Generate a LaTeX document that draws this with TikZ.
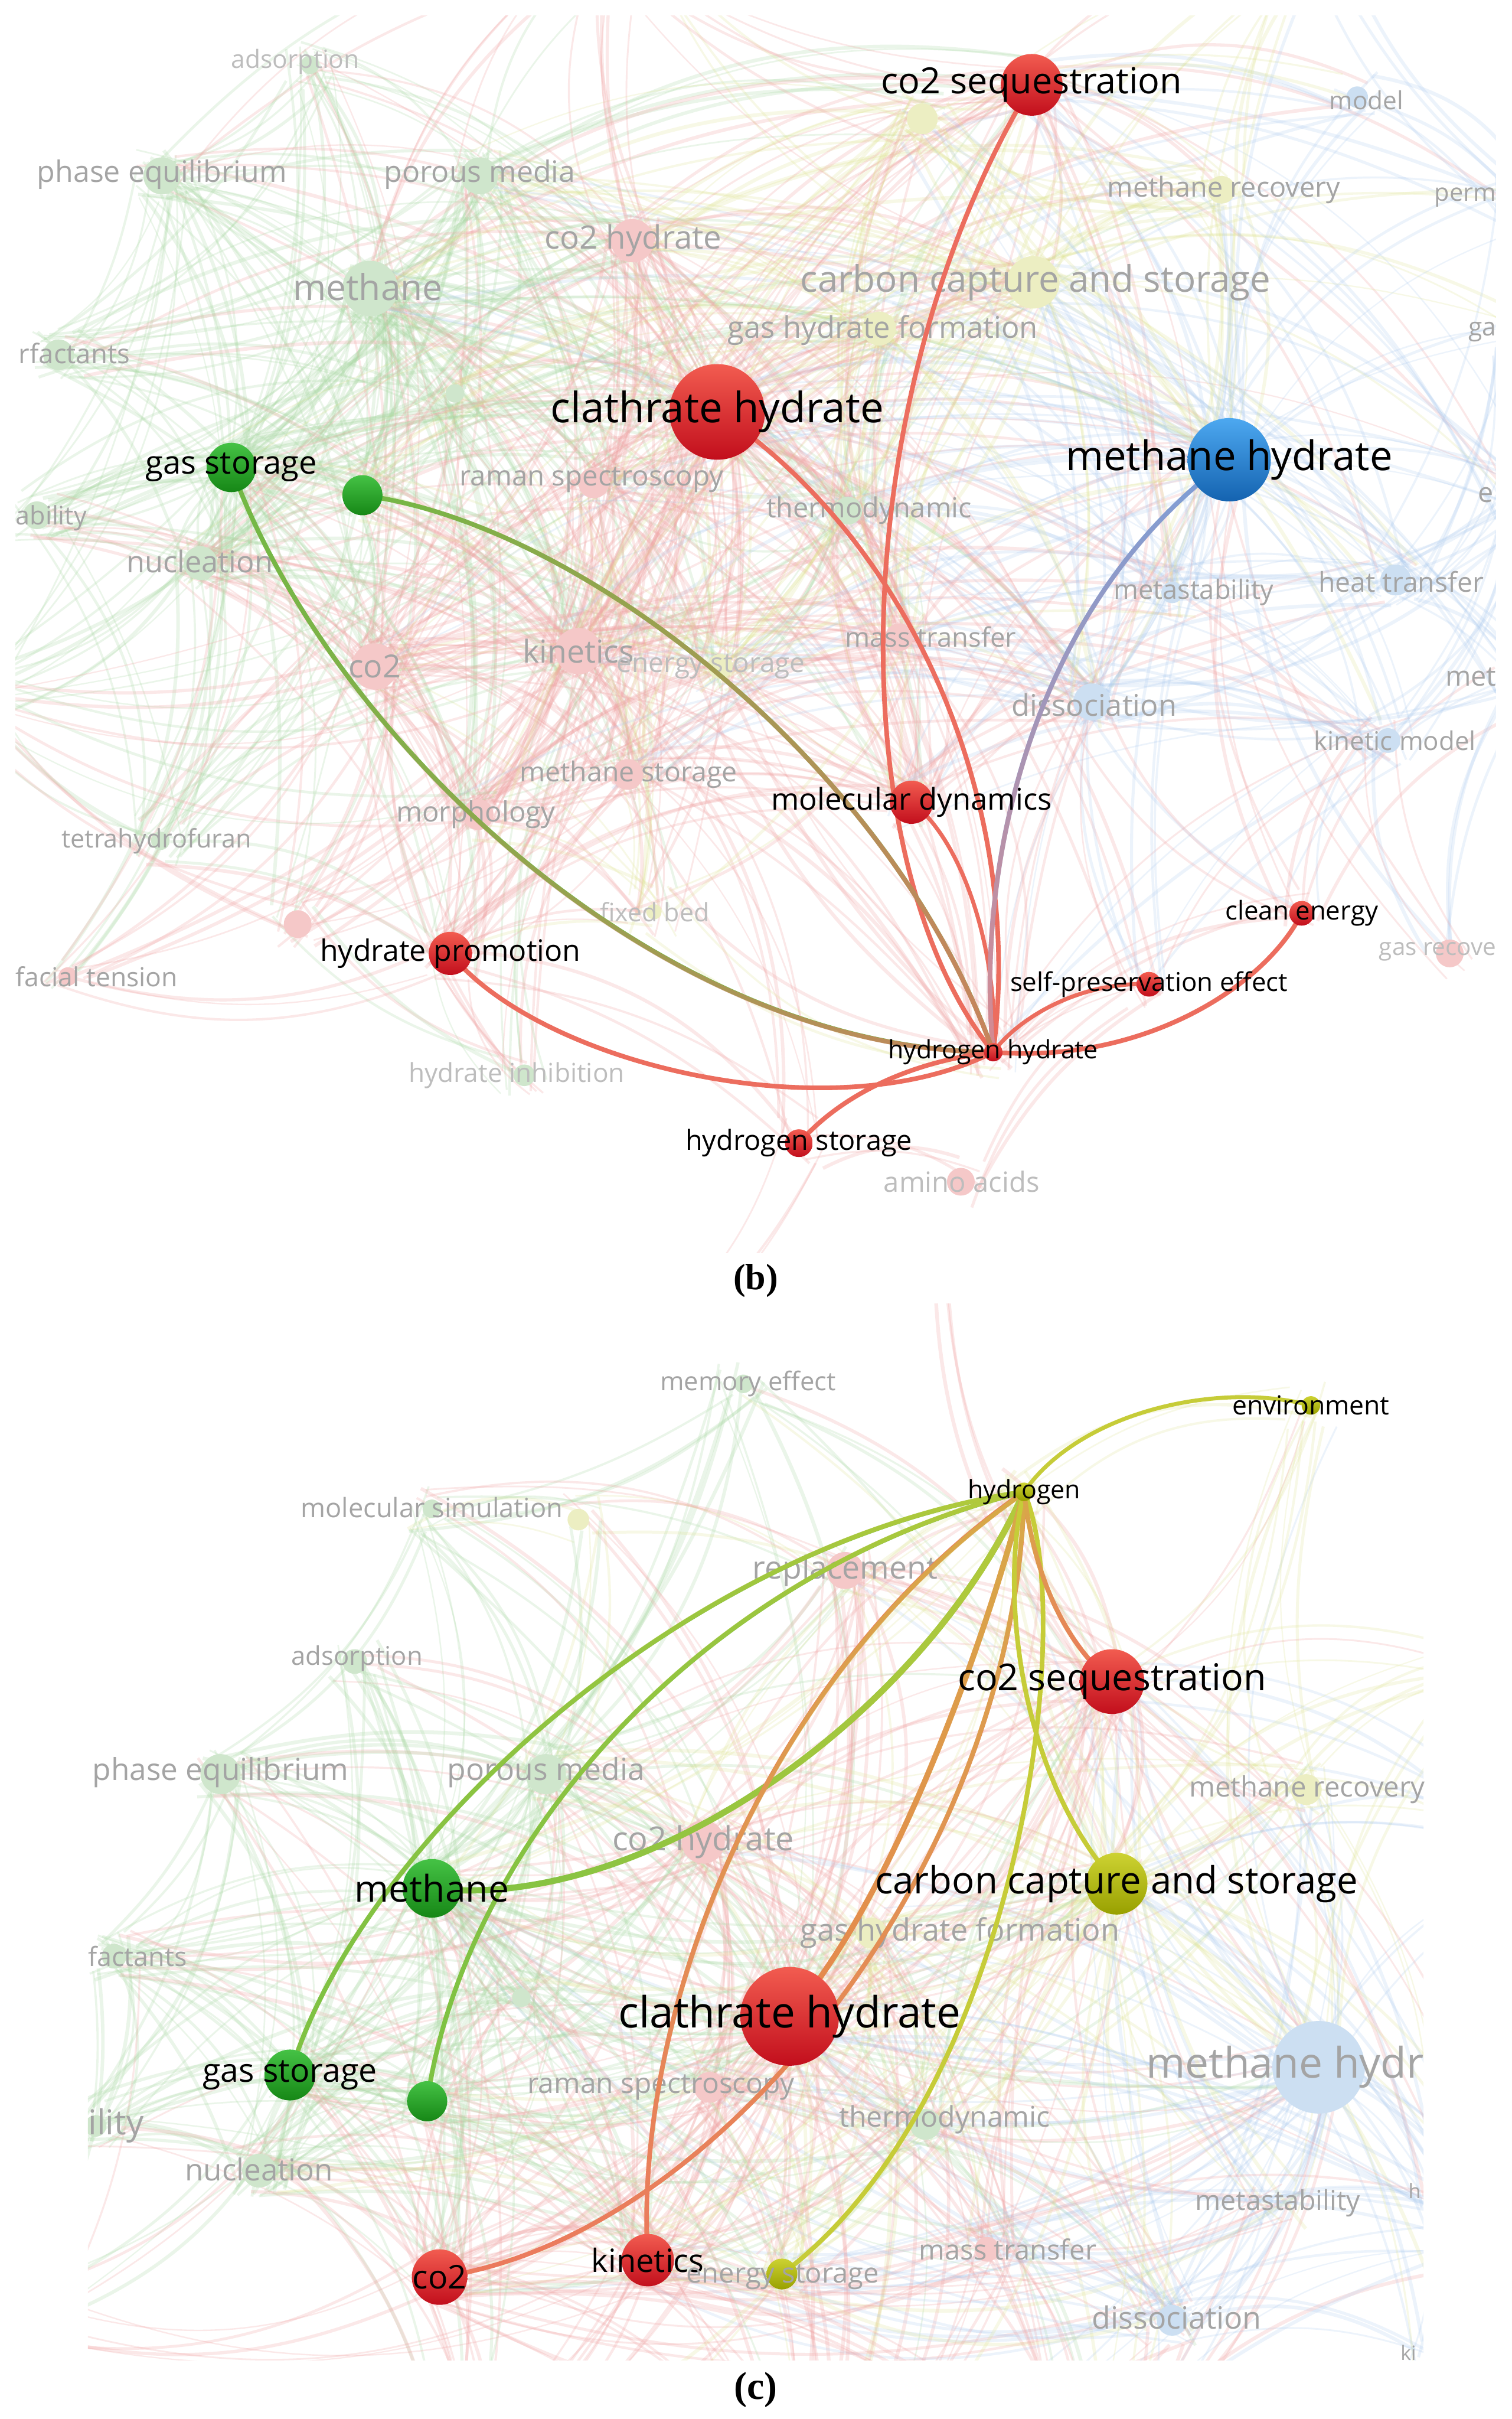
\documentclass[tikz,border=0pt]{standalone}
\usepackage{fontspec}
\usepackage{graphicx}
\newfontfamily\lab{Open Sans}
\newfontfamily\capfont{Liberation Serif}
\usetikzlibrary{fadings}
\pgfdeclarelayer{bgnet}
\pgfdeclarelayer{links}
\pgfdeclarelayer{top}
\pgfsetlayers{bgnet,links,main,top}
\definecolor{rT}{HTML}{F25C50}
\definecolor{rB}{HTML}{C20E1C}
\definecolor{gT}{HTML}{45C245}
\definecolor{gB}{HTML}{168716}
\definecolor{bT}{HTML}{4DA8F0}
\definecolor{bB}{HTML}{1463B0}
\definecolor{yT}{HTML}{CDD232}
\definecolor{yB}{HTML}{98A000}
\definecolor{lnRed}{HTML}{EC6D5E}
\definecolor{lnSalmon}{HTML}{EC7A5E}
\definecolor{lnGreen}{HTML}{72BA45}
\definecolor{lnGreenC}{HTML}{7EC244}
\definecolor{lnLime}{HTML}{B4CA3C}
\definecolor{lnBlue}{HTML}{7C9FD8}
\definecolor{lnBrown}{HTML}{C8845E}
\definecolor{lnPink}{HTML}{D88A90}
\definecolor{lnYellow}{HTML}{C6CC38}
\definecolor{lnOrange}{HTML}{E6884E}
\definecolor{lnGold}{HTML}{D8AA48}
\definecolor{fgray}{HTML}{A4A4A4}
\definecolor{fgrayL}{HTML}{BDBDBD}
\definecolor{fnG}{HTML}{CFE6CC}
\definecolor{fnR}{HTML}{F5C8C8}
\definecolor{fnB}{HTML}{CCDFF2}
\definecolor{fnY}{HTML}{ECEEC2}
\definecolor{bgG}{HTML}{A8D8A2}
\definecolor{bgR}{HTML}{F0A4A4}
\definecolor{bgB}{HTML}{A8C8EE}
\definecolor{bgY}{HTML}{DDE28A}
\tikzfading[name=fadeLR, left color=transparent!100, right color=transparent!0]
\tikzfading[name=fadeTB, top color=transparent!100, bottom color=transparent!0]
\tikzfading[name=fadeBT, top color=transparent!0, bottom color=transparent!100]
\tikzset{
  ball/.style={circle, inner sep=0pt, outer sep=0pt, draw=none},
  ballR/.style={ball, top color=rT, bottom color=rB},
  ballG/.style={ball, top color=gT, bottom color=gB},
  ballB/.style={ball, top color=bT, bottom color=bB},
  ballY/.style={ball, top color=yT, bottom color=yB},
  lnk/.style={line width=3pt, line cap=round},
  slab/.style={font=\lab, text=black, inner sep=0pt},
  flab/.style={font=\lab, text=fgray, inner sep=0pt},
  fdot/.style={circle, inner sep=0pt, draw=none, fill=#1},
  bgl0/.style={draw=bgG, opacity=0.23},
  bgl1/.style={draw=bgR, opacity=0.25},
  bgl2/.style={draw=bgB, opacity=0.21},
  bgl3/.style={draw=bgY, opacity=0.21},
}
\newcommand{\fitlab}[2]{\resizebox{#1pt}{!}{#2}}
\newcommand{\fnd}[5]{\node[fdot=#5, minimum size=#4pt] (#1) at (#2,#3) {};}
\newcommand{\flb}[5]{\node[flab] (#1) at (#2,#3) {\fitlab{#4}{#5}};}
\newcommand{\flbl}[5]{\node[flab, text=fgrayL] (#1) at (#2,#3) {\fitlab{#4}{#5}};}
\newcommand{\flbw}[5]{\node[flab, anchor=west] (#1) at (#2,#3) {\fitlab{#4}{#5}};}
\newcommand{\bgweb}[2]{%
  \foreach \xa/\ya/\ca/\wa [count=\i] in #1 {%
    \foreach \xb/\yb/\cb/\wb [count=\j] in #1 {%
      \ifnum\j>\i\relax
        \pgfmathsetmacro{\ws}{\wa+\wb}%
        \pgfmathsetmacro{\dd}{veclen((\xa)-(\xb),(\ya)-(\yb))}%
        \pgfmathtruncatemacro{\ok}{and(\dd<110+60*\ws, rnd<0.19*\ws)}%
        \ifnum\ok=1\relax
          \foreach \m in {1,...,#2}{%
            \pgfmathtruncatemacro{\cl}{rnd<0.5 ? \ca : \cb}%
            \pgfmathsetmacro{\pxa}{\xa+(rnd-0.5)*34}%
            \pgfmathsetmacro{\pya}{\ya+(rnd-0.5)*34}%
            \pgfmathsetmacro{\pxb}{\xb+(rnd-0.5)*34}%
            \pgfmathsetmacro{\pyb}{\yb+(rnd-0.5)*34}%
            \pgfmathsetmacro{\bend}{10+rnd*16}%
            \pgfmathsetmacro{\lwd}{0.8+rnd*1.6}%
            \draw[bgl\cl, line width=\lwd pt] (\pxa,\pya) to[bend left=\bend] (\pxb,\pyb);
          }%
        \fi
      \fi
    }%
  }%
}
\def\BBL{201/42/0/1, 105/114/0/3, 311/114/0/3, 240/187/0/5, 38/230/0/2, 24/334/0/2, 130/365/0/3, 295/255/0/1, 150/303/0/3, 235/321/0/2, 104/545/0/1, 340/697/0/1, 552/331/0/2, 410/156/1/3, 465/267/1/5, 385/313/1/2, 243/432/1/4, 375/422/1/4, 407/502/1/2, 310/528/1/2, 193/599/1/1, 292/618/1/2, 44/633/1/1, 583/413/1/2, 591/520/1/2, 644/682/1/2, 518/741/1/1, 623/766/1/1, 745/638/1/1, 844/592/1/1, 940/618/1/1, 669/55/1/4, 570/213/3/3, 670/183/3/4, 792/123/3/2, 598/77/3/2, 467/432/3/2, 424/591/3/1, 797/298/2/5, 880/63/2/1, 985/128/2/1, 985/215/2/1, 985/321/2/2, 760/384/2/2, 905/376/2/2, 985/439/2/1, 708/455/2/3, 900/480/2/2, 400/880/1/1, -20/450/0/2, 400/-40/1/1, 850/-40/3/1}
\def\CCL{482/897/0/1, 280/978/0/1, 375/985/3/1, 548/1018/1/2, 230/1077/0/1, 143/1150/0/2, 354/1150/0/2, 456/1194/1/3, 847/1160/3/2, 74/1268/0/2, 565/1253/3/3, 855/1340/2/5, 460/1353/1/2, 62/1378/0/2, 168/1407/0/3, 600/1377/0/2, 830/1428/2/2, 640/1458/1/2, 760/1504/2/3, 664/967/3/1, 850/911/3/1, 721/1090/1/4, 724/1221/3/4, 512/1307/1/5, 280/1224/0/5, 188/1345/0/3, 277/1362/0/2, 285/1476/1/4, 420/1465/1/4, 507/1474/3/2, 338/1295/0/1, 300/1620/1/2, 520/1640/1/2, 700/1620/1/2, 980/1200/2/1, 980/1450/2/2, 960/1080/3/1, 20/1500/1/1, 935/1420/2/1, 930/1525/2/1, 600/800/1/1}
\begin{document}
\begin{tikzpicture}[x=1pt,y=-1pt]
\useasboundingbox (0,0) rectangle (980,1568);
\begin{pgfonlayer}{bgnet}
\fill[white] (0,0) rectangle (980,1568);
% ---------------- panel (b) background ----------------
\begin{scope}
\clip (10,10) rectangle (970,812);
\pgfmathsetseed{11}
\bgweb{\BBL}{3}
\fnd{bfA}{201}{42}{12}{fnG}
\fnd{bfB}{105}{114}{24}{fnG}
\fnd{bfC}{311}{114}{24}{fnG}
\fnd{bfD}{240}{187}{36}{fnG}
\fnd{bfE}{38}{230}{20}{fnG}
\fnd{bfF}{24}{334}{18}{fnG}
\fnd{bfG}{130}{365}{22}{fnG}
\fnd{bfH}{295}{255}{12}{fnG}
\fnd{bfI}{104}{545}{12}{fnG}
\fnd{bfJ}{340}{697}{14}{fnG}
\fnd{bfK}{550}{331}{18}{fnG}
\fnd{bfL}{410}{156}{28}{fnR}
\fnd{bfM}{385}{313}{20}{fnR}
\fnd{bfN}{243}{432}{30}{fnR}
\fnd{bfO}{375}{422}{30}{fnR}
\fnd{bfP}{407}{502}{20}{fnR}
\fnd{bfQ}{310}{528}{20}{fnR}
\fnd{bfR}{193}{599}{18}{fnR}
\fnd{bfS}{44}{633}{12}{fnR}
\fnd{bfT}{583}{413}{18}{fnR}
\fnd{bfU}{623}{766}{18}{fnR}
\fnd{bfV}{940}{618}{18}{fnR}
\fnd{bfW}{570}{213}{22}{fnY}
\fnd{bfX}{670}{183}{34}{fnY}
\fnd{bfY}{792}{123}{18}{fnY}
\fnd{bfZ}{598}{77}{20}{fnY}
\fnd{bfAA}{467}{432}{16}{fnY}
\fnd{bfAB}{424}{591}{10}{fnY}
\fnd{bfAC}{880}{63}{14}{fnB}
\fnd{bfAD}{760}{384}{14}{fnB}
\fnd{bfAE}{905}{376}{20}{fnB}
\fnd{bfAF}{708}{455}{24}{fnB}
\fnd{bfAG}{900}{480}{16}{fnB}
\end{scope}
\flbl{blA}{191.5}{40}{83}{adsorption}
\flb{blB}{105}{113}{162}{phase equilibrium}
\flb{blC}{311}{113}{124}{porous media}
\flb{blD}{410.5}{156}{115}{co2 hydrate}
\flb{blE}{238.5}{186}{97}{methane}
\flbw{blF}{12}{229}{72}{rfactants}
\flbw{blG}{10}{336}{46}{ability}
\flb{blH}{129.5}{364}{95}{nucleation}
\flb{blI}{383.5}{311}{171}{raman spectroscopy}
\flb{blJ}{572.5}{214}{201}{gas hydrate formation}
\flb{blK}{671.5}{183}{305}{carbon capture and storage}
\flb{blL}{793.5}{123}{151}{methane recovery}
\flb{blM}{886}{65}{48}{model}
\flbw{blN}{930}{128}{40}{perm}
\flbw{blO}{952}{215}{18}{ga}
\flbw{blP}{958}{321}{10}{e}
\flb{blQ}{563.5}{331}{133}{thermodynamic}
\flb{blR}{774}{384}{104}{metastability}
\flb{blS}{908.5}{377}{107}{heat transfer}
\flbw{blT}{937}{439}{33}{met}
\flb{blU}{603.5}{413}{111}{mass transfer}
\flb{blV}{709.5}{457}{107}{dissociation}
\flb{blW}{904.5}{480}{105}{kinetic model}
\flb{blX}{243}{432}{34}{co2}
\flb{blY}{375}{422}{72}{kinetics}
\flbl{blZ}{461}{432}{122}{energy storage}
\flb{blAA}{407.5}{502}{141}{methane storage}
\flb{blAB}{308.5}{528}{103}{morphology}
\flb{blAC}{101.5}{545}{123}{tetrahydrofuran}
\flbl{blAD}{424.5}{591}{71}{fixed bed}
\flbw{blAE}{10}{633}{105}{facial tension}
\flbl{blAF}{335}{697}{140}{hydrate inhibition}
\flbl{blAG}{623.5}{766}{101}{amino acids}
\node[flab, text=fgrayL, anchor=west] (blAH) at (894,617) {\fitlab{76}{gas recove}};
% ---------------- panel (c) background ----------------
\begin{scope}
\clip (57,845) rectangle (923,1530);
\pgfmathsetseed{23}
\bgweb{\CCL}{3}
\fnd{cfA}{482}{897}{12}{fnG}
\fnd{cfB}{280}{978}{12}{fnG}
\fnd{cfC}{375}{985}{14}{fnY}
\fnd{cfD}{548}{1018}{24}{fnR}
\fnd{cfE}{230}{1077}{16}{fnG}
\fnd{cfF}{143}{1150}{26}{fnG}
\fnd{cfG}{354}{1150}{26}{fnG}
\fnd{cfH}{456}{1194}{28}{fnR}
\fnd{cfI}{847}{1160}{20}{fnY}
\fnd{cfJ}{74}{1268}{16}{fnG}
\fnd{cfK}{565}{1253}{20}{fnY}
\fnd{cfL}{855}{1340}{60}{fnB}
\fnd{cfM}{460}{1353}{20}{fnR}
\fnd{cfN}{62}{1378}{14}{fnG}
\fnd{cfO}{168}{1407}{22}{fnG}
\fnd{cfP}{600}{1377}{20}{fnG}
\fnd{cfQ}{640}{1458}{16}{fnR}
\fnd{cfR}{760}{1504}{20}{fnB}
\fnd{cfS}{338}{1295}{12}{fnG}
\end{scope}
\flb{clA}{485}{897}{114}{memory effect}
\flb{clB}{280}{977}{170}{molecular simulation}
\flb{clC}{548}{1018}{120}{replacement}
\flb{clD}{231.5}{1075}{85}{adsorption}
\flb{clE}{143}{1149}{166}{phase equilibrium}
\flb{clF}{354}{1149}{128}{porous media}
\flb{clG}{456}{1194}{118}{co2 hydrate}
\flb{clH}{847.5}{1160}{153}{methane recovery}
\flbw{clI}{57}{1268}{64}{factants}
\flb{clJ}{622.5}{1253}{207}{gas hydrate formation}
\flbw{clK}{743}{1340}{180}{methane hydr}
\flb{clL}{428.5}{1353}{173}{raman spectroscopy}
\flbw{clM}{57}{1378}{36}{ility}
\flb{clN}{168}{1406}{96}{nucleation}
\flb{clO}{612.5}{1374}{137}{thermodynamic}
\flb{clP}{828.5}{1428}{107}{metastability}
\flbw{clQ}{913}{1420}{8}{h}
\flb{clR}{653.5}{1458}{115}{mass transfer}
\flb{clS}{763}{1502}{110}{dissociation}
\flbw{clT}{908}{1525}{10}{ki}
\end{pgfonlayer}
% ---------------- panel (b) strong nodes ----------------
\node[ballR, minimum size=40pt] (bCS) at (669,55) {};
\node[ballR, minimum size=62pt] (bCH) at (465,267) {};
\node[ballB, minimum size=54pt] (bMH) at (797,298) {};
\node[ballG, minimum size=32pt] (bGS) at (150,303) {};
\node[ballG, minimum size=26pt] (bGN) at (235,321) {};
\node[ballR, minimum size=28pt] (bMD) at (591,520) {};
\node[ballR, minimum size=28pt] (bHP) at (292,618) {};
\node[ballR, minimum size=16pt] (bCE) at (844,592) {};
\node[ballR, minimum size=16pt] (bSP) at (745,638) {};
\node[ballR, minimum size=12pt] (bHH) at (644,682) {};
\node[ballR, minimum size=18pt] (bHS) at (518,741) {};
% ---------------- panel (c) strong nodes ----------------
\node[ballY, minimum size=12pt] (cHY) at (664,967) {};
\node[ballY, minimum size=12pt] (cEN) at (850,911) {};
\node[ballR, minimum size=42pt] (cCS) at (721,1090) {};
\node[ballY, minimum size=40pt] (cCC) at (724,1221) {};
\node[ballR, minimum size=64pt] (cCH) at (512,1307) {};
\node[ballG, minimum size=38pt] (cME) at (280,1224) {};
\node[ballG, minimum size=33pt] (cGS) at (188,1345) {};
\node[ballG, minimum size=26pt] (cGN) at (277,1362) {};
\node[ballR, minimum size=36pt] (cCO) at (285,1476) {};
\node[ballR, minimum size=34pt] (cKI) at (420,1465) {};
\node[ballY, minimum size=20pt] (cES) at (507,1474) {};
% ---------------- links ----------------
\begin{pgfonlayer}{links}
\draw[lnk, draw=lnRed] (bCS.center) .. controls (545,260) and (545,560) .. (bHH.center);
\draw[lnk, draw=lnRed] (bCH.center) .. controls (590,350) and (665,520) .. (bHH.center);
\draw[lnk, draw=lnRed, line width=2.6pt] (bMD.center) .. controls (625,545) and (648,620) .. (bHH.center);
\draw[lnk, draw=lnBlue] (bMH.center) .. controls (670,390) and (632,560) .. (bHH.center);
\draw[lnk, draw=lnPink, path fading=fadeTB] (bMH.center) .. controls (670,390) and (632,560) .. (bHH.center);
\draw[lnk, draw=lnGreen] (bGS.center) .. controls (210,470) and (420,680) .. (bHH.center);
\draw[lnk, draw=lnBrown, path fading=fadeLR] (bGS.center) .. controls (210,470) and (420,680) .. (bHH.center);
\draw[lnk, draw=lnGreen] (bGN.center) .. controls (380,340) and (580,500) .. (bHH.center);
\draw[lnk, draw=lnBrown, path fading=fadeLR] (bGN.center) .. controls (380,340) and (580,500) .. (bHH.center);
\draw[lnk, draw=lnRed] (bHP.center) .. controls (350,690) and (540,735) .. (bHH.center);
\draw[lnk, draw=lnRed] (bHS.center) .. controls (545,710) and (590,688) .. (bHH.center);
\draw[lnk, draw=lnRed, line width=2.6pt] (bHH.center) .. controls (660,660) and (700,636) .. (bSP.center);
\draw[lnk, draw=lnRed] (bHH.center) .. controls (740,690) and (820,640) .. (bCE.center);
% panel (c)
\draw[lnk, draw=lnYellow, line width=2.6pt] (cHY.center) .. controls (700,915) and (790,895) .. (cEN.center);
\draw[lnk, draw=lnGreenC, line width=4pt] (cME.center) .. controls (420,1240) and (600,1110) .. (cHY.center);
\draw[lnk, draw=lnLime, line width=4pt, path fading=fadeLR] (cME.center) .. controls (420,1240) and (600,1110) .. (cHY.center);
\draw[lnk, draw=lnGreenC] (cGS.center) .. controls (230,1200) and (440,1000) .. (cHY.center);
\draw[lnk, draw=lnLime, path fading=fadeLR] (cGS.center) .. controls (230,1200) and (440,1000) .. (cHY.center);
\draw[lnk, draw=lnGreenC] (cGN.center) .. controls (300,1200) and (450,1020) .. (cHY.center);
\draw[lnk, draw=lnLime, path fading=fadeLR] (cGN.center) .. controls (300,1200) and (450,1020) .. (cHY.center);
\draw[lnk, draw=lnOrange, line width=3.6pt] (cCH.center) .. controls (580,1230) and (640,1060) .. (cHY.center);
\draw[lnk, draw=lnGold, line width=3.6pt, path fading=fadeBT] (cCH.center) .. controls (580,1230) and (640,1060) .. (cHY.center);
\draw[lnk, draw=lnSalmon] (cCO.center) .. controls (470,1450) and (660,1200) .. (cHY.center);
\draw[lnk, draw=lnGold, path fading=fadeBT] (cCO.center) .. controls (470,1450) and (660,1200) .. (cHY.center);
\draw[lnk, draw=lnSalmon] (cKI.center) .. controls (410,1300) and (500,1080) .. (cHY.center);
\draw[lnk, draw=lnGold, path fading=fadeBT] (cKI.center) .. controls (410,1300) and (500,1080) .. (cHY.center);
\draw[lnk, draw=lnYellow] (cES.center) .. controls (660,1360) and (700,1050) .. (cHY.center);
\draw[lnk, draw=lnYellow] (cHY.center) .. controls (648,1030) and (660,1150) .. (cCC.center);
\draw[lnk, draw=lnGold] (cHY.center) .. controls (670,1020) and (690,1065) .. (cCS.center);
\draw[lnk, draw=lnSalmon, path fading=fadeTB] (cHY.center) .. controls (670,1020) and (690,1065) .. (cCS.center);
\end{pgfonlayer}
% ---------------- labels ----------------
\begin{pgfonlayer}{top}
\node[slab] (bCSl) at (bCS) {\fitlab{195}{co2 sequestration}};
\node[slab] (bCHl) at (bCH) {\fitlab{216}{clathrate hydrate}};
\node[slab] (bMHl) at (bMH) {\fitlab{212}{methane hydrate}};
\node[slab] (bGSl) at (bGS) {\fitlab{111}{gas storage}};
\node[slab] (bMDl) at (bMD) {\fitlab{182}{molecular dynamics}};
\node[slab] (bHPl) at (bHP) {\fitlab{169}{hydrate promotion}};
\node[slab] (bCEl) at (bCE) {\fitlab{99}{clean energy}};
\node[slab] (bSPl) at (bSP) {\fitlab{180}{self-preservation effect}};
\node[slab] (bHHl) at (bHH) {\fitlab{136}{hydrogen hydrate}};
\node[slab] (bHSl) at (bHS) {\fitlab{147}{hydrogen storage}};
\node[slab] (cHYl) at (cHY) {\fitlab{73}{hydrogen}};
\node[slab] (cENl) at (cEN) {\fitlab{102}{environment}};
\node[slab] (cCSl) at (cCS) {\fitlab{200}{co2 sequestration}};
\node[slab] (cCCl) at (cCC) {\fitlab{313}{carbon capture and storage}};
\node[slab] (cCHl) at (cCH) {\fitlab{222}{clathrate hydrate}};
\node[slab] (cMEl) at (cME) {\fitlab{100}{methane}};
\node[slab] (cGSl) at (cGS) {\fitlab{113}{gas storage}};
\node[slab] (cCOl) at (cCO) {\fitlab{35}{co2}};
\node[slab] (cKIl) at (cKI) {\fitlab{73}{kinetics}};
\node[flab] (cESl) at (507.5,1476) {\fitlab{125}{energy storage}};
\node[inner sep=0pt, font=\capfont\bfseries] (capB) at (490,830) {\fitlab{29}{(b)}};
\node[inner sep=0pt, font=\capfont\bfseries] (capC) at (490,1549) {\fitlab{28}{(c)}};
\end{pgfonlayer}
\end{tikzpicture}
\end{document}
